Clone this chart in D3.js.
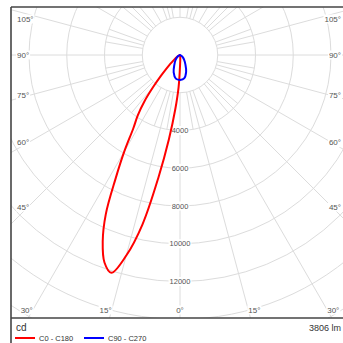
<!DOCTYPE html>
<html>
<head>
<meta charset="utf-8">
<script src="https://cdn.jsdelivr.net/npm/d3@7"></script>
<style>
  body { margin: 0; background: #fff; }
  svg { display: block; font-family: "Liberation Sans", Arial, sans-serif; }
</style>
</head>
<body>
<div id="chart"></div>
<script>
// gamma angles (deg from nadir) and luminous intensity (cd)
var gammaRed = d3.range(0, 90.1, 2.5)
var c0 = [600, 300, 150, 80, 50, 30, 20, 12, 8, 5, 3, 2, 1, 0, 0, 0, 0, 0, 0,
  0, 0, 0, 0, 0, 0, 0, 0, 0, 0, 0, 0, 0, 0, 0, 0, 0, 0]
var c180 = [600, 1700, 2900, 4500, 6600, 9200, 11000, 12100, 11700, 10700, 9300, 7400, 5900,
  4600, 3900, 3100, 2200, 1500, 1000, 700, 480, 340, 240, 170, 120,
  85, 60, 45, 32, 22, 15, 10, 6, 4, 2, 1, 0]
var gammaBlue = [0, 10, 20, 30, 40, 50, 60, 70, 80, 90]
var c90 = [1330, 1260, 950, 570, 350, 200, 100, 40, 10, 0]
var c270 = [1330, 1270, 980, 600, 380, 220, 110, 45, 12, 0]

var ringValues = d3.range(2000, 18001, 2000)
var tickValues = [4000, 6000, 8000, 10000, 12000]
var angleLabels = [0, 15, 30, 45, 60, 75, 90, 105]
var lumen = "3806 lm"
var unit = "cd"
var seriesNames = ["C0 - C180", "C90 - C270"]
var seriesColors = ["#ff0000", "#0000ff"]

var width = 343, height = 343
var box = {left: 11, top: 7, right: 343, bottom: 318}
var cx = 180, cy = 55

var r = d3.scaleLinear().domain([0, 2000]).range([0, 37.75])
var rad = Math.PI / 180

function pos(a, d) {
  // a: signed angle from nadir in degrees (right positive)
  return [cx + d * Math.sin(a * rad), cy + d * Math.cos(a * rad)]
}

var svg = d3.select("#chart").append("svg")
  .attr("width", width)
  .attr("height", height)

svg.append("clipPath").attr("id", "plotclip")
  .append("rect")
  .attr("x", box.left).attr("y", box.top)
  .attr("width", box.right - box.left).attr("height", box.bottom - box.top)

var grid = svg.append("g").attr("clip-path", "url(#plotclip)")
  .attr("fill", "none").attr("stroke", "#dcdcdc").attr("stroke-width", 1)

grid.selectAll("circle")
  .data(ringValues)
  .enter().append("circle")
  .attr("cx", cx).attr("cy", cy)
  .attr("r", function(d) { return r(d) })

// spokes every 15 deg to the edge
grid.selectAll("line.major")
  .data(d3.range(0, 360, 15))
  .enter().append("line")
  .attr("class", "major")
  .attr("x1", function(d) { return pos(d, r(2000))[0] })
  .attr("y1", function(d) { return pos(d, r(2000))[1] })
  .attr("x2", function(d) { return pos(d, 500)[0] })
  .attr("y2", function(d) { return pos(d, 500)[1] })

// finer spokes in the first ring
grid.selectAll("line.minor")
  .data(d3.range(0, 360, 10).filter(function(d) { return d % 15 != 0 }))
  .enter().append("line")
  .attr("class", "minor")
  .attr("x1", function(d) { return pos(d, r(2000))[0] })
  .attr("y1", function(d) { return pos(d, r(2000))[1] })
  .attr("x2", function(d) { return pos(d, r(4000))[0] })
  .attr("y2", function(d) { return pos(d, r(4000))[1] })

function label(g, x, y, txt, anchor, size) {
  var t = g.append("text")
    .attr("x", x).attr("y", y)
    .attr("text-anchor", anchor)
    .attr("dominant-baseline", "central")
    .attr("font-size", size)
    .attr("fill", "#555")
    .text(txt)
  var b = t.node().getBBox()
  g.insert("rect", "text:last-child")
    .attr("x", b.x - 1).attr("y", b.y)
    .attr("width", b.width + 2).attr("height", b.height)
    .attr("fill", "#fff")
}

var labels = svg.append("g")

tickValues.forEach(function(v) {
  label(labels.append("g"), cx, cy + r(v), d3.format("d")(v), "middle", 7.5)
})

var sideDx = cx - 28
angleLabels.forEach(function(a) {
  [-1, 1].forEach(function(s) {
    if (a == 0 && s < 0) return
    var g = labels.append("g")
    var bx = a < 90 ? (310 - cy) * Math.tan(a * rad) : Infinity
    if (bx > sideDx) {
      // spoke reaches the side column first
      var y = cy - sideDx * Math.tan((a - 90) * rad)
      y = Math.max(19, y)
      if (s < 0) label(g, 17, y, a + "°", "start", 8)
      else label(g, 341, y, a + "°", "end", 8)
    } else {
      label(g, cx + s * bx, 310, a + "°", a == 0 ? "middle" : (s < 0 ? "end" : "start"), 8)
    }
  })
})

// curves
function curvePoints(gam, right, left) {
  var pts = []
  for (var i = gam.length - 1; i >= 0; i--) pts.push({a: gam[i], v: right[i]})
  for (var j = 0; j < gam.length; j++) pts.push({a: -gam[j], v: left[j]})
  return pts
}

var line = d3.lineRadial()
  .angle(function(d) { return Math.PI - d.a * rad })
  .radius(function(d) { return r(d.v) })
  .curve(d3.curveCatmullRom)

var curves = svg.append("g").attr("transform", "translate(" + cx + "," + cy + ")")
  .attr("fill", "none").attr("stroke-width", 2).attr("stroke-linejoin", "round")

curves.append("path")
  .attr("d", line(curvePoints(gammaRed, c0, c180)))
  .attr("stroke", seriesColors[0])

curves.append("path")
  .attr("d", line(curvePoints(gammaBlue, c90, c270)))
  .attr("stroke", seriesColors[1])

// frame
var frame = svg.append("g").attr("stroke", "#444").attr("stroke-width", 1.6)
frame.append("line").attr("x1", box.left).attr("y1", box.top).attr("x2", box.left).attr("y2", height)
frame.append("line").attr("x1", box.left).attr("y1", box.top).attr("x2", width).attr("y2", box.top)
frame.append("line").attr("x1", box.left).attr("y1", box.bottom).attr("x2", width).attr("y2", box.bottom)

svg.append("text").attr("x", 16).attr("y", 331)
  .attr("font-size", 10).attr("fill", "#333").text(unit)
svg.append("text").attr("x", 341).attr("y", 331).attr("text-anchor", "end")
  .attr("font-size", 9).attr("fill", "#333").text(lumen)

var legend = svg.append("g")
var legendX = [15, 84]
seriesNames.forEach(function(name, i) {
  legend.append("line")
    .attr("x1", legendX[i]).attr("x2", legendX[i] + 20)
    .attr("y1", 338).attr("y2", 338)
    .attr("stroke", seriesColors[i]).attr("stroke-width", 2)
  legend.append("text")
    .attr("x", legendX[i] + 24).attr("y", 340.5)
    .attr("font-size", 7.5).attr("fill", "#333")
    .text(name)
})
</script>
</body>
</html>
